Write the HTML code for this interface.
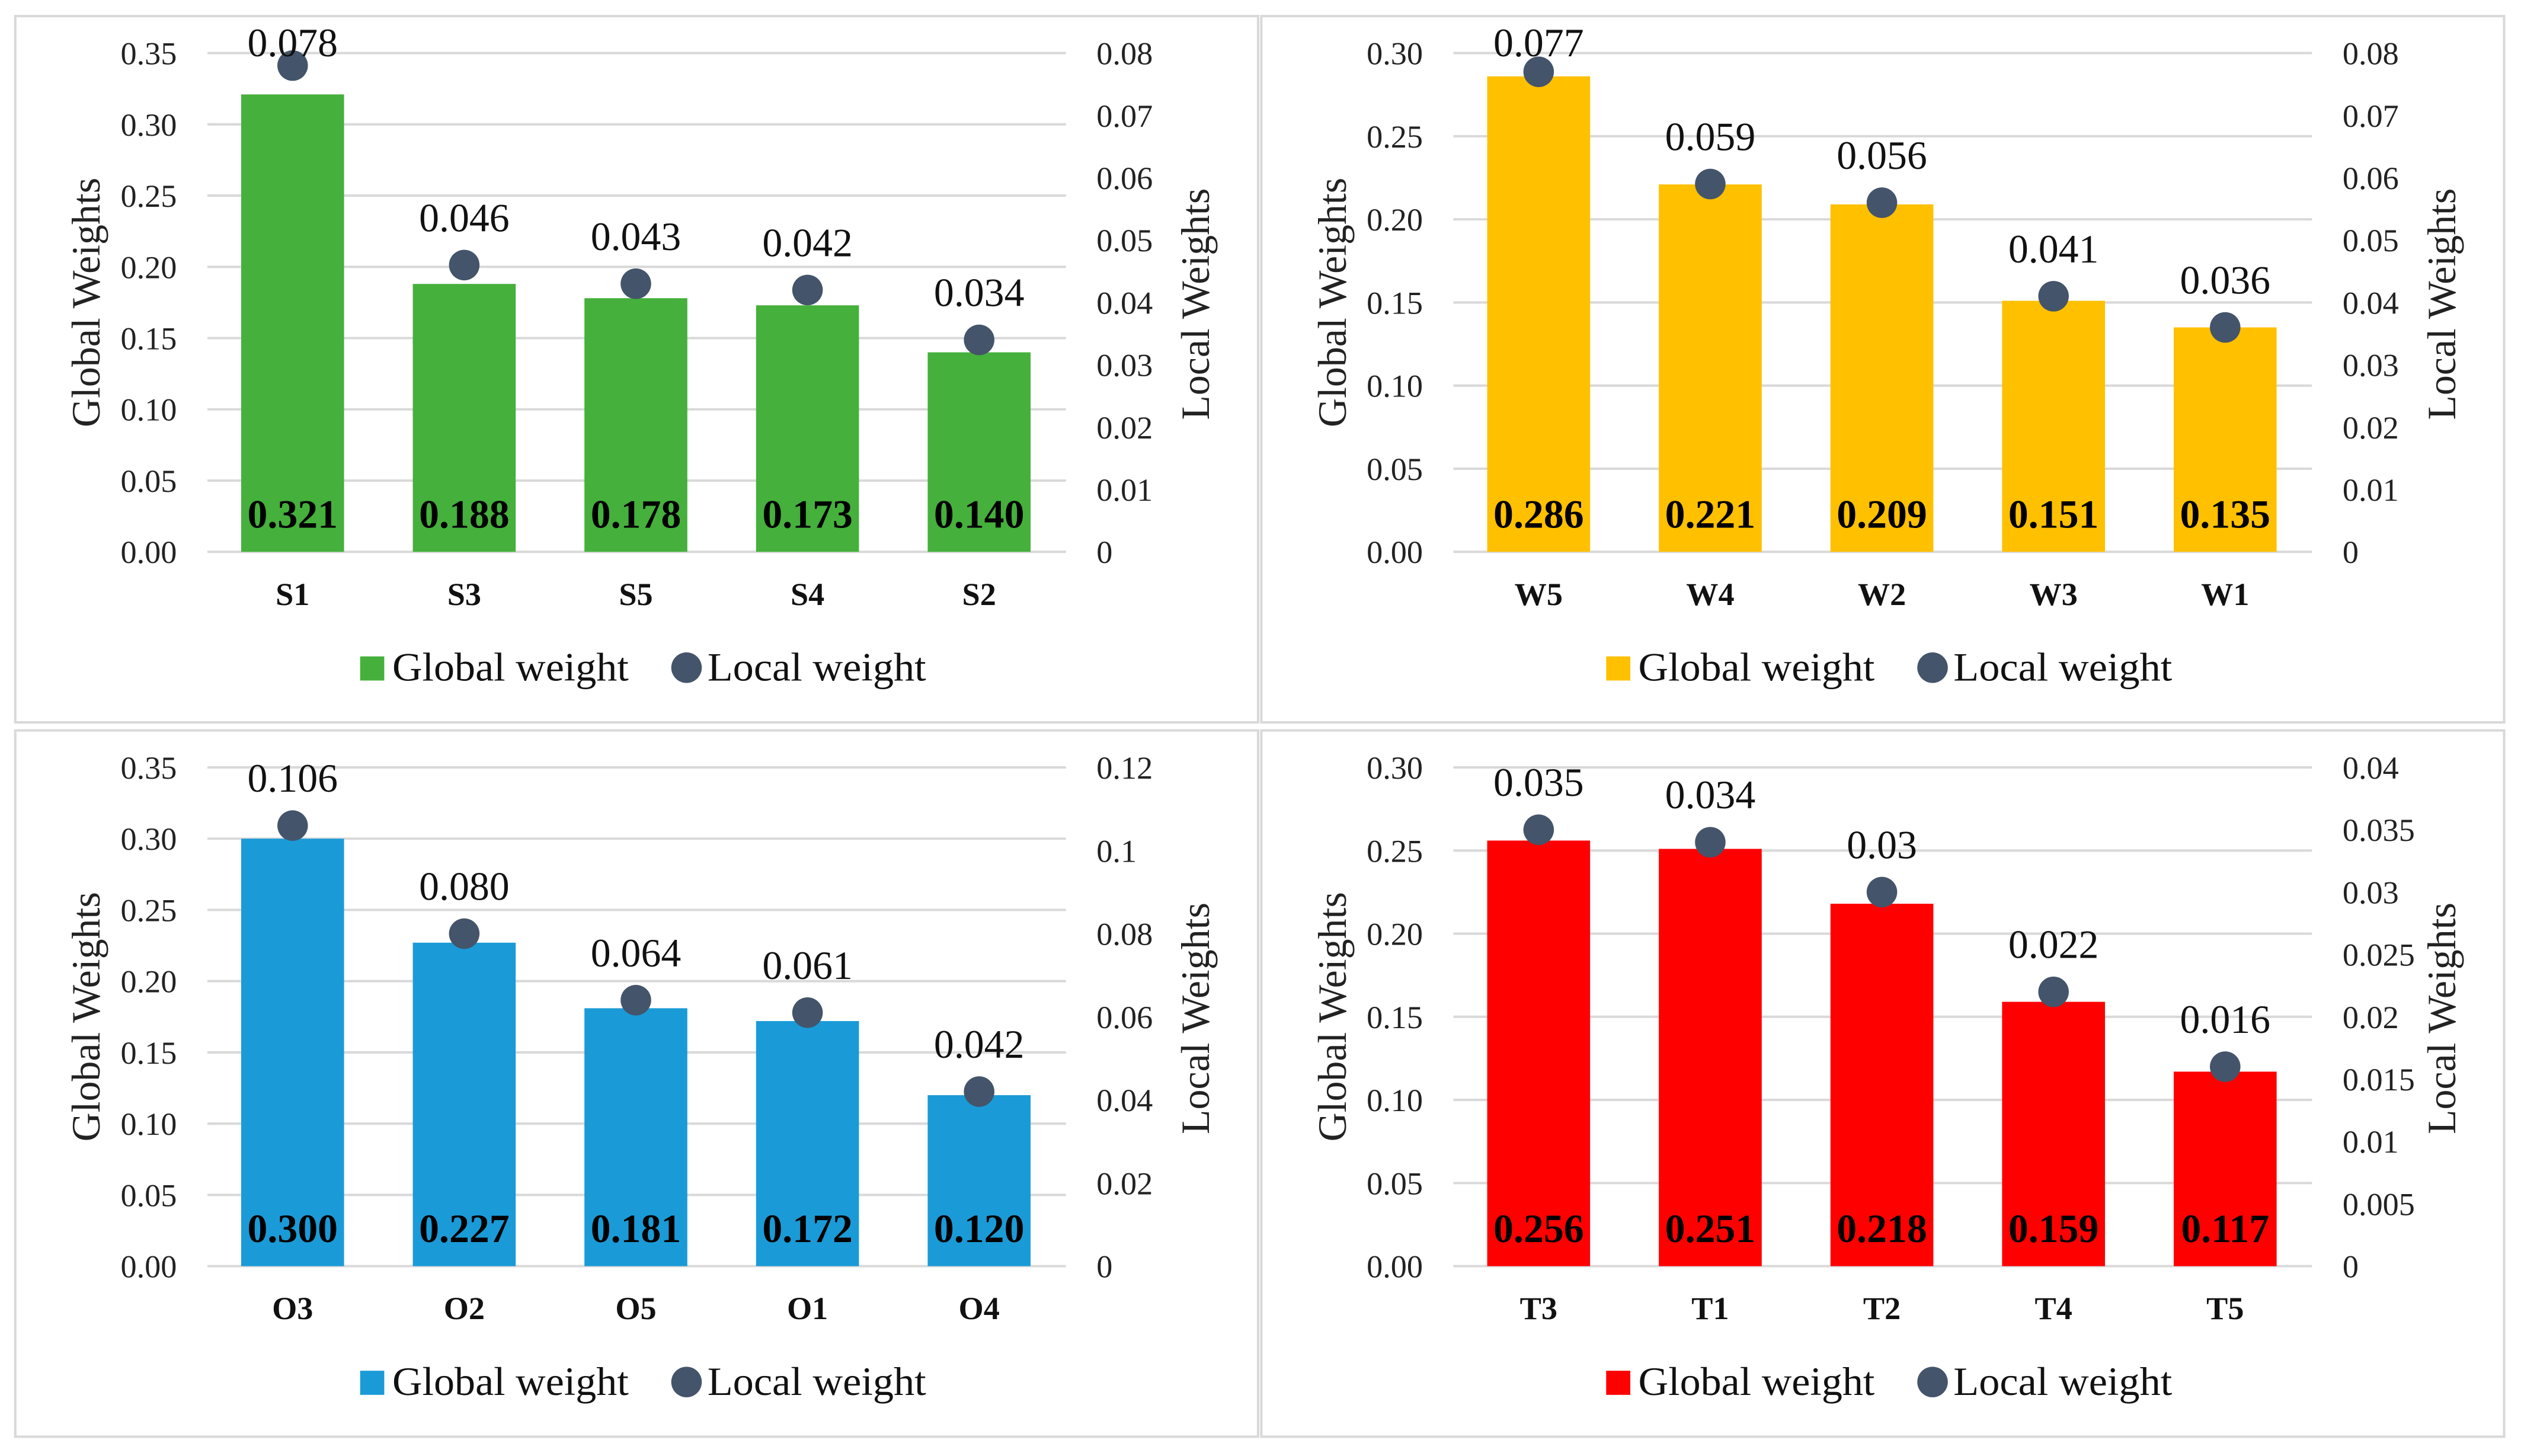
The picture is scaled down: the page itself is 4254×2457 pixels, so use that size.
<!DOCTYPE html>
<html><head><meta charset="utf-8"><style>
html,body{margin:0;padding:0;background:#fff;}
svg{display:block;font-family:"Liberation Serif","Times New Roman",serif;}
svg text{font-family:"Liberation Serif","Times New Roman",serif !important;}
</style></head><body>
<svg id="fig" width="4254" height="2457" viewBox="0 0 1568 905" preserveAspectRatio="none" font-family="Liberation Serif, serif" xmlns="http://www.w3.org/2000/svg"></svg>
<script>
// Panel 1: S criteria
const cats1 = ["S1","S3","S5","S4","S2"];
const global1 = [0.321,0.188,0.178,0.173,0.140];
const local1 = [0.078,0.046,0.043,0.042,0.034];
const localLabels1 = ["0.078","0.046","0.043","0.042","0.034"];
const leftTicks1 = [0,0.05,0.10,0.15,0.20,0.25,0.30,0.35];
const rightTicks1 = [0,0.01,0.02,0.03,0.04,0.05,0.06,0.07,0.08];
const rightTickLabels1 = ["0","0.01","0.02","0.03","0.04","0.05","0.06","0.07","0.08"];
// Panel 2: W criteria
const cats2 = ["W5","W4","W2","W3","W1"];
const global2 = [0.286,0.221,0.209,0.151,0.135];
const local2 = [0.077,0.059,0.056,0.041,0.036];
const localLabels2 = ["0.077","0.059","0.056","0.041","0.036"];
const leftTicks2 = [0,0.05,0.10,0.15,0.20,0.25,0.30];
const rightTicks2 = [0,0.01,0.02,0.03,0.04,0.05,0.06,0.07,0.08];
const rightTickLabels2 = ["0","0.01","0.02","0.03","0.04","0.05","0.06","0.07","0.08"];
// Panel 3: O criteria
const cats3 = ["O3","O2","O5","O1","O4"];
const global3 = [0.300,0.227,0.181,0.172,0.120];
const local3 = [0.106,0.080,0.064,0.061,0.042];
const localLabels3 = ["0.106","0.080","0.064","0.061","0.042"];
const leftTicks3 = [0,0.05,0.10,0.15,0.20,0.25,0.30,0.35];
const rightTicks3 = [0,0.02,0.04,0.06,0.08,0.10,0.12];
const rightTickLabels3 = ["0","0.02","0.04","0.06","0.08","0.1","0.12"];
// Panel 4: T criteria
const cats4 = ["T3","T1","T2","T4","T5"];
const global4 = [0.256,0.251,0.218,0.159,0.117];
const local4 = [0.035,0.034,0.030,0.022,0.016];
const localLabels4 = ["0.035","0.034","0.03","0.022","0.016"];
const leftTicks4 = [0,0.05,0.10,0.15,0.20,0.25,0.30];
const rightTicks4 = [0,0.005,0.01,0.015,0.02,0.025,0.03,0.035,0.04];
const rightTickLabels4 = ["0","0.005","0.01","0.015","0.02","0.025","0.03","0.035","0.04"];

const NS="http://www.w3.org/2000/svg";
const svg=document.getElementById('fig');
const FF='"Liberation Serif", serif';
function mk(tag,attrs,parent,txt){
  const e=document.createElementNS(NS,tag);
  for(const k in attrs) e.setAttribute(k,attrs[k]);
  if(txt!==undefined){ e.textContent=txt; e.setAttribute('font-family',FF); e.style.fontFamily=FF; }
  parent.appendChild(e); return e;
}
function panel(name,ox,oy,color,cats,glob,loc,locLabels,lt,rt,rtl){
  const g=mk('g',{transform:`translate(${ox},${oy})`},svg);
  
  
  const border=mk('rect',{x:9.5,y:10,width:773,height:439,fill:'none',stroke:'#d9d9d9','stroke-width':1.5},g);
  
  
  const y0=343, yTop=33, gx0=129, gx1=663;
  const lmax=lt[lt.length-1], rmax=rt[rt.length-1];
  const yL=v=>y0-(v/lmax)*(y0-yTop);
  const yR=v=>y0-(v/rmax)*(y0-yTop);
  const xC=i=>182+i*106.75;
  lt.forEach(t=>{
    const ln=mk('line',{x1:gx0,x2:gx1,y1:yL(t),y2:yL(t),stroke:'#d9d9d9','stroke-width':1.5},g);
    
    
    const tx=mk('text',{x:110,y:yL(t)+7,'text-anchor':'end','font-size':20,fill:'#222'},g,t.toFixed(2));
    
    
  });
  rt.forEach((t,i)=>{
    const tx=mk('text',{x:682,y:yR(t)+7,'font-size':20,fill:'#222'},g,rtl[i]);
    
    
  });
  cats.forEach((c,i)=>{
    const x=xC(i);
    const b=mk('rect',{x:x-32,y:yL(glob[i]),width:64,height:y0-yL(glob[i]),fill:color},g);
    
    
    const bv=mk('text',{x:x,y:328,'text-anchor':'middle','font-size':25,'font-weight':'bold',fill:'#000'},g,glob[i].toFixed(3));
    
    
    const dy=yR(loc[i]);
    const d=mk('circle',{cx:x,cy:dy,r:9.5,fill:'#44546a'},g);
    
    
    const lv=mk('text',{x:x,y:Math.max(dy-21,35),'text-anchor':'middle','font-size':25,fill:'#111'},g,locLabels[i]);
    
    
    const cl=mk('text',{x:x,y:376,'text-anchor':'middle','font-size':20,'font-weight':'bold',fill:'#111'},g,c);
    
    
  });
  const yt=mk('text',{transform:'translate(62,188) rotate(-90)','text-anchor':'middle','font-size':25,fill:'#222'},g,'Global Weights');
  
  
  const rt2=mk('text',{transform:'translate(752,189) rotate(-90)','text-anchor':'middle','font-size':25,fill:'#222'},g,'Local Weights');
  
  
  const lg=mk('g',{},g);
  
  
  const sq=mk('rect',{x:224,y:408,width:15,height:15,fill:color},lg);
  
  
  const t1=mk('text',{x:244,y:423,'font-size':25,fill:'#111',textLength:147,lengthAdjust:'spacingAndGlyphs'},lg,'Global weight');
  
  
  const dc=mk('circle',{cx:427,cy:415,r:9.5,fill:'#44546a'},lg);
  
  
  const t2=mk('text',{x:440,y:423,'font-size':25,fill:'#111',textLength:136,lengthAdjust:'spacingAndGlyphs'},lg,'Local weight');
  
  
}
panel('panel-s',0,0,'#45b03c',cats1,global1,local1,localLabels1,leftTicks1,rightTicks1,rightTickLabels1);
panel('panel-w',775,0,'#ffc000',cats2,global2,local2,localLabels2,leftTicks2,rightTicks2,rightTickLabels2);
panel('panel-o',0,444,'#1a9bd7',cats3,global3,local3,localLabels3,leftTicks3,rightTicks3,rightTickLabels3);
panel('panel-t',775,444,'#ff0000',cats4,global4,local4,localLabels4,leftTicks4,rightTicks4,rightTickLabels4);
</script>
</body></html>
